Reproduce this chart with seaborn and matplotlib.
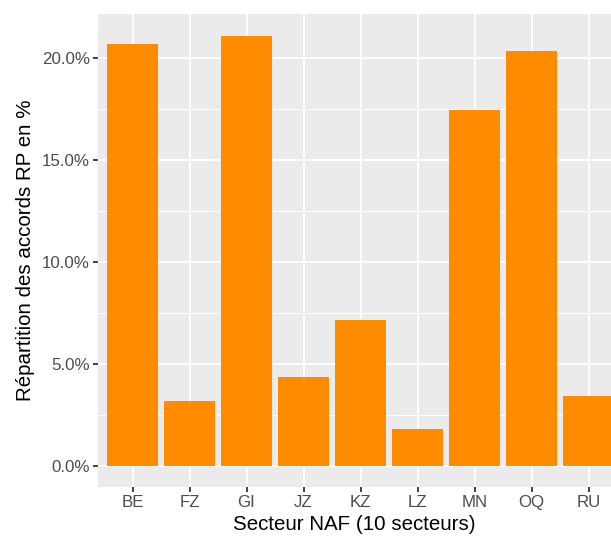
import matplotlib
matplotlib.use("Agg")
import matplotlib.pyplot as plt
import seaborn as sns
import pandas as pd
from matplotlib.ticker import FuncFormatter, MultipleLocator

categories = ["BE", "FZ", "GI", "JZ", "KZ", "LZ", "MN", "OQ", "RU"]
values = [20.69, 3.19, 21.13, 4.36, 7.16, 1.81, 17.45, 20.39, 3.43]

df = pd.DataFrame({"secteur": categories, "part": values})

sns.set_theme(style="darkgrid")
plt.rcParams["font.family"] = ["Liberation Sans", "DejaVu Sans"]

W, H, DPI = 611, 537, 100
fig = plt.figure(figsize=(W / DPI, H / DPI), dpi=DPI)
unit = 57.0
left_px = 132.5 - 0.6 * unit
ax = fig.add_axes([left_px / W, (H - 487) / H, 1 - left_px / W, (487 - 14) / H])
ax.set_facecolor("#EBEBEB")

sns.barplot(data=df, x="secteur", y="part", color="#FF8C00", width=0.9,
            saturation=1, ax=ax, zorder=3, linewidth=0, edgecolor="none")

vmax = max(values)
ax.set_ylim(-0.05 * vmax, 1.05 * vmax)
ax.set_xlim(-0.6, (W - 132.5) / unit)

ax.yaxis.set_major_locator(MultipleLocator(5))
ax.yaxis.set_minor_locator(MultipleLocator(2.5))
ax.yaxis.set_major_formatter(FuncFormatter(lambda v, p: f"{v:.1f}%"))

ax.grid(which="major", color="white", linewidth=1.3, zorder=1)
ax.grid(which="minor", axis="y", color="white", linewidth=0.65, zorder=1)
ax.set_axisbelow(True)

for s in ax.spines.values():
    s.set_visible(False)

ax.tick_params(axis="both", which="major", length=3.6, width=1.3, color="#333333",
               labelcolor="#4D4D4D", labelsize=12.2, pad=2.5, bottom=True, left=True)
ax.tick_params(axis="both", which="minor", length=0, bottom=False, left=False)

ax.set_xlabel("Secteur NAF (10 secteurs)", fontsize=14.8, color="black", labelpad=3)
ax.set_ylabel("Répartition des accords RP en %", fontsize=14.8, color="black", labelpad=5)

fig.savefig("out.png", dpi=DPI, facecolor="white")
